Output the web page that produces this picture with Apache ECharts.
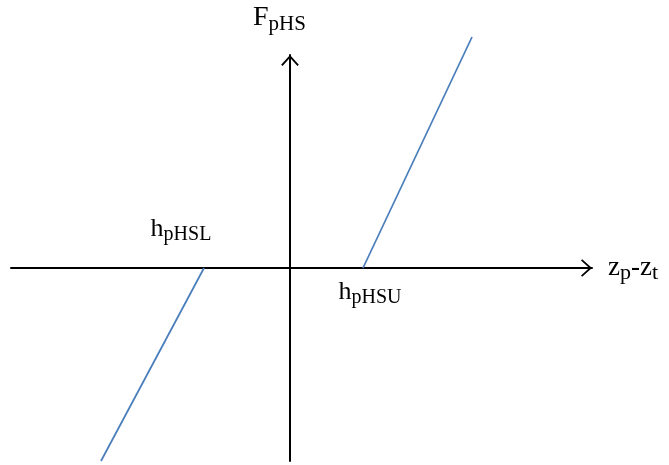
<!DOCTYPE html>
<html>
<head>
<meta charset="utf-8">
<script src="https://cdn.jsdelivr.net/npm/echarts@6/dist/echarts.min.js"></script>
<style>
  html, body { margin: 0; padding: 0; background: #fff; }
  #chart { width: 669px; height: 465px; }
</style>
</head>
<body>
<div id="chart"></div>
<script>
// Axis extents (abstract units, origin at the crossing of the axes)
const xRange = [-27.9, 30.2];
const yRange = [-19.3, 21.3];

// Threshold positions on the z_p - z_t axis
const hLower = -8.6;
const hUpper = 7.3;

// Two branches of the hard-stop force characteristic
const lowerBranch = [[-18.9, -19.3], [hLower, 0]];
const upperBranch = [[hUpper, 0], [18.2, 23.1]];

// Texts
const xName = 'z{zsub|p}-z{zsub|t}';
const yName = 'F{bsub|pHS}';
const lowerLabel = 'h{sub|pHSL}';
const upperLabel = 'h{sub|pHSU}';

const serif = '"Liberation Serif", "DejaVu Serif", serif';
const richMain = {
  sub: { fontFamily: serif, fontSize: 20, lineHeight: 18, verticalAlign: 'bottom', color: '#000' },
  bsub: { fontFamily: serif, fontSize: 21, lineHeight: 19, verticalAlign: 'bottom', color: '#000' },
  zsub: { fontFamily: serif, fontSize: 22, lineHeight: 19, verticalAlign: 'bottom', color: '#000' }
};

// Open chevron arrowhead, tip at the top
const chevron = 'path://M9 0 L18 10 L16.6 11.2 L9 2.8 L1.4 11.2 L0 10 Z';

const axisLine = {
  show: true,
  onZero: true,
  symbol: ['none', chevron],
  symbolSize: [18, 11],
  symbolOffset: [0, -5.5],
  lineStyle: { color: '#000', width: 2 }
};

const chart = echarts.init(document.getElementById('chart'));

function branchData(points, labelIndex, labelCfg) {
  return points.map((p, i) => i === labelIndex
    ? { value: p, label: Object.assign({ show: true }, labelCfg) }
    : { value: p });
}

const labelText = {
  fontFamily: serif, fontSize: 26, lineHeight: 32, color: '#000', rich: richMain
};

chart.setOption({
  animation: false,
  backgroundColor: '#fff',
  grid: { left: 11, right: 77, top: 55, bottom: 4, containLabel: false, outerBoundsMode: 'none' },
  xAxis: {
    type: 'value',
    min: xRange[0], max: xRange[1],
    axisLine: axisLine,
    axisTick: { show: false },
    axisLabel: { show: false },
    splitLine: { show: false },
    name: xName,
    nameLocation: 'end',
    nameGap: 16,
    nameTextStyle: Object.assign({}, labelText, { fontSize: 27, lineHeight: 33, align: 'left', verticalAlign: 'middle' })
  },
  yAxis: {
    type: 'value',
    min: yRange[0], max: yRange[1],
    axisLine: axisLine,
    axisTick: { show: false },
    axisLabel: { show: false },
    splitLine: { show: false },
    name: yName,
    nameLocation: 'end',
    nameGap: 20,
    nameTextStyle: Object.assign({}, labelText, { fontSize: 28, lineHeight: 34, padding: [0, 21, 0, 0] })
  },
  series: [
    {
      type: 'line',
      clip: false,
      showSymbol: true,
      symbol: 'circle',
      symbolSize: 0,
      lineStyle: { color: '#4a7ebb', width: 1.75 },
      itemStyle: { color: '#4a7ebb' },
      data: branchData(lowerBranch, 1, Object.assign({}, labelText, {
        formatter: lowerLabel, position: 'top', distance: 0, offset: [-23, -23]
      }))
    },
    {
      type: 'line',
      clip: false,
      showSymbol: true,
      symbol: 'circle',
      symbolSize: 0,
      lineStyle: { color: '#4a7ebb', width: 1.75 },
      itemStyle: { color: '#4a7ebb' },
      data: branchData(upperBranch, 0, Object.assign({}, labelText, {
        formatter: upperLabel, position: 'bottom', distance: 0, offset: [7, 8]
      }))
    }
  ]
});
</script>
</body>
</html>
